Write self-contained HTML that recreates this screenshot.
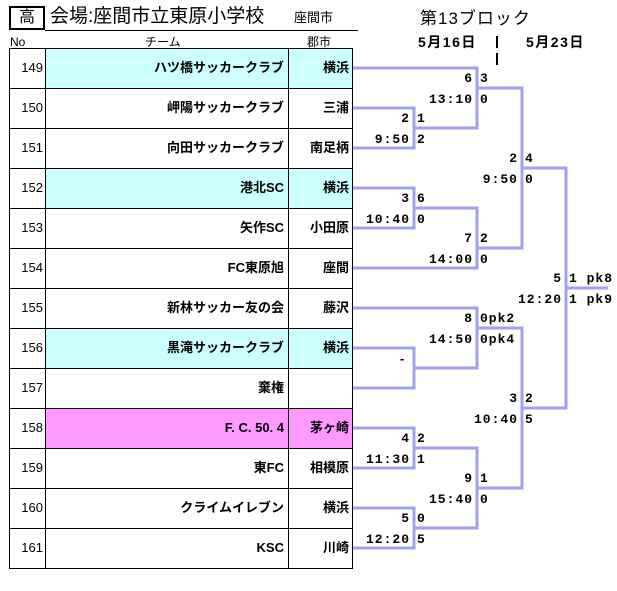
<!DOCTYPE html>
<html><head><meta charset="utf-8"><style>
body{margin:0;width:617px;height:591px;background:#fff;position:relative;overflow:hidden;font-family:"Liberation Sans","Noto Sans CJK JP",sans-serif;color:#000}
.a{position:absolute;white-space:nowrap}
.r{position:absolute;box-sizing:border-box;border:1px solid #000}
.t{position:absolute;font-size:13px;font-weight:bold;white-space:nowrap;line-height:16px}
.m{font-family:"Liberation Mono","Noto Sans CJK JP",monospace;letter-spacing:1px}
</style></head><body>
<div class="a" style="left:9px;top:6px;width:36px;height:24px;box-sizing:border-box;border:2px solid #000;font-size:16px;text-align:center;line-height:20px">高</div>
<div class="a" style="left:50px;top:5px;font-size:19px;line-height:24px">会場:座間市立東原小学校</div>
<div class="a" style="left:294px;top:9px;font-size:13px;line-height:18px">座間市</div>
<div class="a" style="left:45px;top:30px;width:313px;height:1px;background:#000"></div>
<div class="a" style="left:10px;top:34px;font-size:12px;line-height:16px">No</div>
<div class="a" style="left:145px;top:34px;font-size:12px;line-height:16px">チーム</div>
<div class="a" style="left:307px;top:34px;font-size:12px;line-height:16px">郡市</div>
<div class="a" style="left:420px;top:8px;font-size:17px;line-height:22px;letter-spacing:1px">第13ブロック</div>
<div class="a" style="left:418px;top:34px;font-size:14px;font-weight:bold;line-height:16px;letter-spacing:1.5px">5月16日</div>
<div class="a" style="left:526px;top:34px;font-size:14px;font-weight:bold;line-height:16px;letter-spacing:1.5px">5月23日</div>
<div class="a" style="left:496px;top:36px;width:2px;height:12px;background:#000"></div>
<div class="a" style="left:496px;top:53px;width:2px;height:12px;background:#000"></div>
<div id="tbl"></div>
<script>
var rows=[["149","ハツ橋サッカークラブ","横浜","#ccffff"],["150","岬陽サッカークラブ","三浦",""],["151","向田サッカークラブ","南足柄",""],["152","港北SC","横浜","#ccffff"],["153","矢作SC","小田原",""],["154","FC東原旭","座間",""],["155","新林サッカー友の会","藤沢",""],["156","黒滝サッカークラブ","横浜","#ccffff"],["157","棄権","",""],["158","F. C. 50. 4","茅ヶ崎","#ff99ff"],["159","東FC","相模原",""],["160","クライムイレブン","横浜",""],["161","KSC","川崎",""]];
var h="";
rows.forEach(function(r,i){var y=48+i*40;var bg=r[3]||"#fff";
h+='<div class="r" style="left:9px;top:'+y+'px;width:37px;height:41px"></div>';
h+='<div class="r" style="left:45px;top:'+y+'px;width:244px;height:41px;background:'+bg+'"></div>';
h+='<div class="r" style="left:288px;top:'+y+'px;width:65px;height:41px;background:'+bg+'"></div>';
h+='<div class="a" style="left:9px;top:'+(y+12)+'px;width:34px;text-align:right;font-size:13px;line-height:16px">'+r[0]+'</div>';
h+='<div class="t" style="left:45px;top:'+(y+12)+'px;width:239px;text-align:right">'+r[1]+'</div>';
h+='<div class="t" style="left:288px;top:'+(y+12)+'px;width:61px;text-align:right">'+r[2]+'</div>';});
document.getElementById("tbl").innerHTML=h;
</script>
<svg class="a" style="left:0;top:0" width="617" height="591">
<g fill="none" stroke="#a0a0f0" stroke-width="3">
<polyline points="353,108 414,108 414,148 353,148"/>
<polyline points="353,68 477,68 477,128 414,128"/>
<polyline points="477,88 522,88 522,248 477,248"/>
<polyline points="353,188 414,188 414,228 353,228"/>
<polyline points="414,208 477,208 477,268 353,268"/>
<polyline points="522,168 566,168 566,408 522,408"/>
<line x1="566" y1="288" x2="608" y2="288"/>
<polyline points="353,308 477,308 477,368 414,368"/>
<polyline points="353,348 414,348 414,388 353,388"/>
<polyline points="477,328 522,328 522,488 477,488"/>
<polyline points="353,428 414,428 414,468 353,468"/>
<polyline points="414,448 477,448 477,528 414,528"/>
<polyline points="353,508 414,508 414,548 353,548"/>
</g></svg>
<div id="lb"></div>
<script>
var L=[[414,128,"2","9:50","1","2"],[477,88,"6","13:10","3","0"],[522,168,"2","9:50","4","0"],[414,208,"3","10:40","6","0"],[477,248,"7","14:00","2","0"],[566,288,"5","12:20","1 pk8","1 pk9"],[477,328,"8","14:50","0pk2","0pk4"],[522,408,"3","10:40","2","5"],[414,448,"4","11:30","2","1"],[477,488,"9","15:40","1","0"],[414,528,"5","12:20","0","5"]];
var h="";
L.forEach(function(l){var x=l[0],y=l[1];
h+='<div class="t m" style="right:'+(617-x+4)+'px;top:'+(y-17)+'px">'+l[2]+'</div>';
h+='<div class="t m" style="right:'+(617-x+4)+'px;top:'+(y+4)+'px">'+l[3]+'</div>';
h+='<div class="t m" style="left:'+(x+3)+'px;top:'+(y-17)+'px">'+l[4]+'</div>';
h+='<div class="t m" style="left:'+(x+3)+'px;top:'+(y+4)+'px">'+l[5]+'</div>';});
h+='<div class="t" style="left:400px;top:351px">-</div>';
document.getElementById("lb").innerHTML=h;
</script>
</body></html>
